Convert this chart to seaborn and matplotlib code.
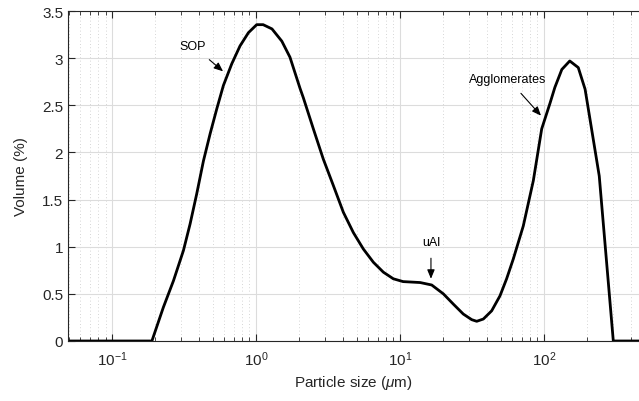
import numpy as np
import pandas as pd
import matplotlib
matplotlib.use("Agg")
import matplotlib.pyplot as plt
import seaborn as sns
from matplotlib.ticker import LogLocator, FuncFormatter, MultipleLocator, NullFormatter

# Data
size_um = [0.0494, 0.189, 0.227, 0.267, 0.313, 0.348, 0.387, 0.431, 0.480, 0.533,
           0.593, 0.678, 0.774, 0.885, 1.01, 1.12, 1.29, 1.51, 1.72, 2.02, 2.13,
           2.50, 2.93, 3.44, 4.04, 4.74, 5.56, 6.53, 7.66, 8.98, 10.5, 13.8, 16.6,
           20.0, 23.5, 27.5, 31.5, 34.1, 37.9, 43.3, 49.5, 55.0, 61.2, 71.8, 84.3,
           96.4, 110, 119, 133, 151, 173, 193, 242, 303, 460]
volume_pct = [0.0, 0.0, 0.357, 0.64, 0.96, 1.24, 1.56, 1.91, 2.20, 2.46,
              2.71, 2.94, 3.13, 3.27, 3.355, 3.355, 3.31, 3.18, 3.01, 2.68, 2.58,
              2.25, 1.93, 1.65, 1.365, 1.15, 0.976, 0.835, 0.73, 0.66, 0.63, 0.62, 0.594,
              0.50, 0.39, 0.286, 0.226, 0.209, 0.233, 0.32, 0.48, 0.66, 0.87, 1.22, 1.70,
              2.25, 2.52, 2.69, 2.88, 2.97, 2.90, 2.67, 1.75, 0.0, 0.0]

y_ticks = [0, 0.5, 1, 1.5, 2, 2.5, 3, 3.5]

annotations = [("SOP", 0.365, 3.13, 0.59, 2.86),
               ("uAl", 16.4, 1.05, 16.4, 0.66),
               ("Agglomerates", 56.2, 2.78, 95.3, 2.39)]

df = pd.DataFrame({"size": size_um, "volume": volume_pct})

sns.set_style("white")
plt.rcParams["font.family"] = ["Liberation Sans", "DejaVu Sans"]
plt.rcParams["mathtext.fontset"] = "custom"
plt.rcParams["mathtext.rm"] = "Liberation Sans"
plt.rcParams["mathtext.it"] = "Liberation Sans:italic"
plt.rcParams["axes.unicode_minus"] = False

fig = plt.figure(figsize=(6.39, 4.02), dpi=100)
ax = fig.add_axes([68/639, 60/402, 1 - 68/639, 330/402])

sns.lineplot(data=df, x="size", y="volume", color="black", linewidth=2.0, ax=ax,
             sort=False, estimator=None)
ax.lines[0].set_solid_joinstyle("round")
ax.set_xscale("log")
ax.set_xlim(0.0494, 457)
ax.set_ylim(0, 3.5)

gray = "#262626"
ax.set_yticks(y_ticks)
ax.yaxis.set_major_formatter(FuncFormatter(lambda v, p: f"{v:g}"))
ax.xaxis.set_major_locator(LogLocator(base=10, numticks=10))
ax.xaxis.set_minor_locator(LogLocator(base=10, subs=np.arange(2, 10), numticks=20))
ax.xaxis.set_minor_formatter(NullFormatter())

ax.grid(True, which="major", color="#dcdcdc", linewidth=0.8, linestyle="-")
ax.grid(True, which="minor", axis="x", color="#c8c8c8", linewidth=0.6, linestyle=(0, (1, 3)))
ax.set_axisbelow(True)

ax.tick_params(axis="both", which="major", direction="in", length=5, width=0.8,
               colors=gray, labelsize=11, top=True, bottom=True, left=True, right=False)
ax.tick_params(axis="x", which="minor", direction="in", length=3, width=0.6,
               colors=gray, top=True, bottom=True)
ax.tick_params(axis="x", which="major", pad=6)
for s in ["left", "bottom", "top"]:
    ax.spines[s].set_color(gray)
    ax.spines[s].set_linewidth(0.8)
ax.spines["right"].set_visible(False)

ax.set_xlabel("Particle size ($\\mu$m)", fontsize=11, color=gray, labelpad=4)
ax.set_ylabel("Volume (%)", fontsize=11, color=gray, labelpad=10)

for label, tx, ty, ax_, ay_ in annotations:
    ax.annotate(label, xy=(ax_, ay_), xytext=(tx, ty), textcoords="data",
                ha="center", va="center", fontsize=9, color="black",
                arrowprops=dict(arrowstyle="-|>,head_length=0.6,head_width=0.25",
                                color="black", lw=0.8, shrinkA=5, shrinkB=0))

fig.savefig("out.png", dpi=100)
